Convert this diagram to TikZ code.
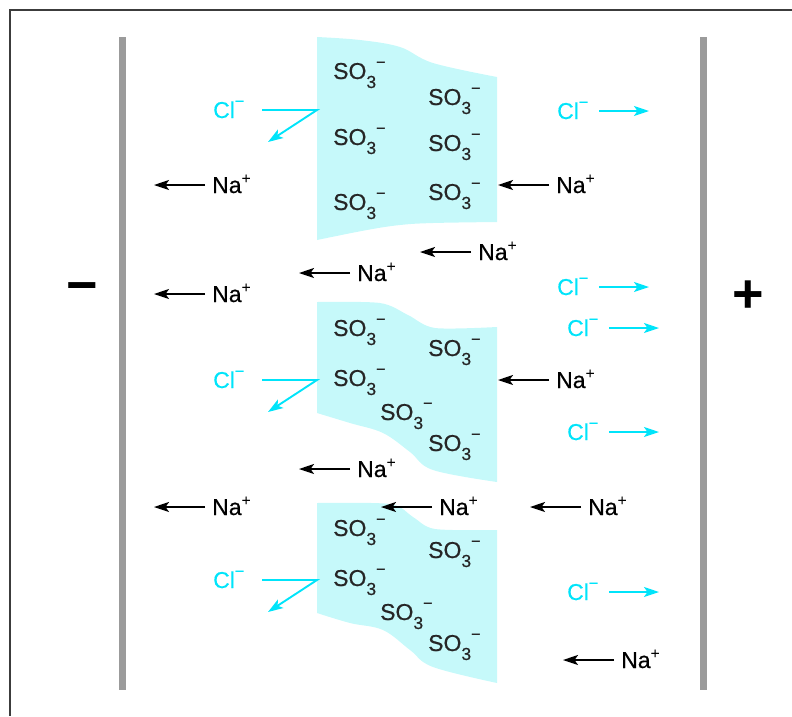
\documentclass[tikz,border=0pt]{standalone}
\usepackage{fontspec}
\setmainfont{Liberation Sans}
\newfontfamily\ionfont{Liberation Sans}[FakeBold=0.5]
\usetikzlibrary{arrows.meta}
\definecolor{ioncyan}{RGB}{0,228,250}
\definecolor{membr}{RGB}{198,249,250}
\definecolor{electrode}{RGB}{155,155,155}
\definecolor{framec}{RGB}{60,60,60}
\newcommand\upplus{\raisebox{9.5pt}{\fontsize{15.5}{15}\selectfont +}}
\newcommand\upminus{\raisebox{11.5pt}{\fontsize{16}{15}\selectfont −}}
\newcommand\lowthree{\raisebox{-9pt}{\fontsize{17.5}{16}\selectfont 3}}
\newcommand\sothree{SO\lowthree\upminus}
\newcommand\naplus{Na\upplus}
\newcommand\clminus{Cl\upminus}
\begin{document}
\begin{tikzpicture}[x=1pt,y=-1pt,
  ion/.style={inner sep=0pt, anchor=base west, font=\ionfont\fontsize{23}{26}\selectfont},
  so/.style={ion, text=black!85},
  na/.style={ion, text=black},
  cl/.style={ion, text=ioncyan},
  blackarr/.style={draw=black, line width=1.9pt, -{Stealth[length=15pt,width=10pt,inset=3.5pt]}},
  cyanarr/.style={draw=ioncyan, line width=1.9pt, line join=miter, -{Stealth[length=15pt,width=10pt,inset=3.5pt]}},
  membrane/.style={fill=membr, draw=none},
  electrodebar/.style={draw=electrode, line width=7pt},
  framelines/.style={draw=framec, line width=2.5pt},
  sign/.style={inner sep=0pt, font=\bfseries\fontsize{54}{54}\selectfont}]
\useasboundingbox (0,0) rectangle (792,716);
% frame
\draw[framelines] (792,10) -- (10,10) -- (10,716);
% electrodes
\draw[electrodebar] (122,37) -- (122,690);
\draw[electrodebar] (703,37) -- (703,690);
\node[sign] (minus) at (82,293) {−};
\node[sign] (plus) at (748,297) {+};
% membranes
\fill[membrane] plot[smooth,tension=0.6] coordinates {(317,37) (360,40) (400,47) (433,63) (497,77)}
  -- (497,222) -- plot[smooth,tension=0.6] coordinates {(497,222) (433,223) (400,225) (367,230) (317,240)} -- cycle;
\fill[membrane] plot[smooth,tension=0.5] coordinates {(317,302) (380,303) (408,315) (435,328) (497,327)}
  -- (497,482) -- plot[smooth,tension=0.6] coordinates {(497,482) (433,470) (410,452) (383,433) (350,423) (317,413)} -- cycle;
\fill[membrane] plot[smooth,tension=0.5] coordinates {(317,503) (390,504) (413,517) (435,529) (497,530)}
  -- (497,683) -- plot[smooth,tension=0.6] coordinates {(497,683) (433,667) (410,650) (383,630) (350,623) (317,613)} -- cycle;
% SO3- groups
\node[so] (s1) at (333,79) {\sothree};
\node[so] (s2) at (428,105) {\sothree};
\node[so] (s3) at (333,145) {\sothree};
\node[so] (s4) at (428,151) {\sothree};
\node[so] (s5) at (333,210) {\sothree};
\node[so] (s6) at (428,200) {\sothree};
\node[so] (s7) at (333,336) {\sothree};
\node[so] (s8) at (428,356) {\sothree};
\node[so] (s9) at (333,386) {\sothree};
\node[so] (s10) at (380,420) {\sothree};
\node[so] (s11) at (428,451) {\sothree};
\node[so] (s12) at (333,536) {\sothree};
\node[so] (s13) at (428,558) {\sothree};
\node[so] (s14) at (333,586) {\sothree};
\node[so] (s15) at (380,620) {\sothree};
\node[so] (s16) at (428,651) {\sothree};
% Na+ ions
\foreach \n/\x/\y in {n1/212/193, n2/556/193, n3/478/260, n4/357/281, n5/212/302, n6/556/388, n7/357/477, n8/212/515, n9/439/515, n10/588/515, n11/621/668}{
  \node[na] (\n) at (\x,\y) {\naplus};
  \draw[blackarr] ([xshift=-7pt,yshift=8pt]\n.base west) -- ++(-51,0);
}
% Cl- deflected at membranes
\foreach \c/\y in {c1/118, c2/388, c3/588}{
  \node[cl] (\c) at (213,\y) {\clminus};
  \draw[cyanarr] ([xshift=49pt,yshift=8pt]\c.base west) -- ++(55,0) -- ++(-49,32);
}
% Cl- passing to the anode
\foreach \c/\x/\y in {c4/557/119, c5/557/295, c6/567/336, c7/567/440, c8/567/600}{
  \node[cl] (\c) at (\x,\y) {\clminus};
  \draw[cyanarr] ([xshift=42pt,yshift=8pt]\c.base west) -- ++(50,0);
}
\end{tikzpicture}
\end{document}
